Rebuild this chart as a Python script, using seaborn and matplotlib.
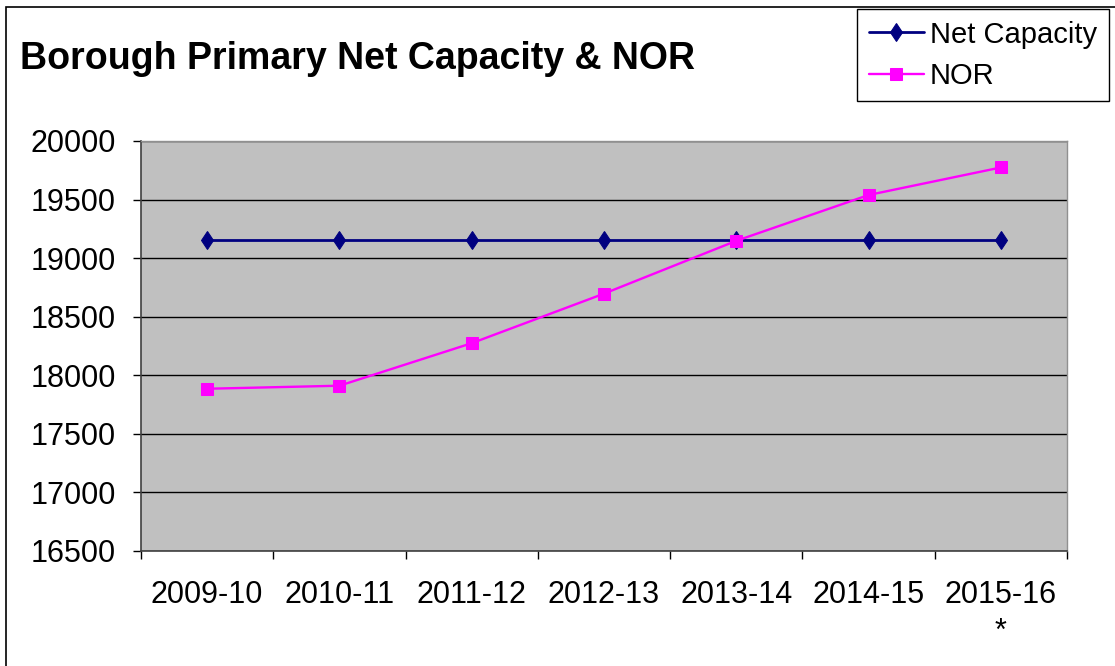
import pandas as pd
import matplotlib
matplotlib.use("Agg")
import matplotlib.pyplot as plt
import matplotlib.patches as mpatches
import seaborn as sns

# Data
years = ["2009-10", "2010-11", "2011-12", "2012-13", "2013-14", "2014-15", "2015-16\n*"]
net_capacity = [19157, 19157, 19157, 19157, 19157, 19157, 19157]
nor = [17885, 17911, 18274, 18697, 19148, 19539, 19774]
y_ticks = [16500, 17000, 17500, 18000, 18500, 19000, 19500, 20000]

sns.set_theme(style="white")
plt.rcParams["font.family"] = ["Liberation Sans", "DejaVu Sans"]
plt.rcParams["text.color"] = "black"
plt.rcParams["xtick.color"] = "black"
plt.rcParams["ytick.color"] = "black"
plt.rcParams["xtick.labelcolor"] = "black"
plt.rcParams["ytick.labelcolor"] = "black"

df = pd.DataFrame({"pos": range(len(years)), "Net Capacity": net_capacity, "NOR": nor})

fig = plt.figure(figsize=(11.15, 6.66), dpi=100)
ax = fig.add_axes([141 / 1115, 1 - 551 / 666, (1067 - 141) / 1115, (551 - 141) / 666])
ax.set_facecolor("#C0C0C0")

sns.lineplot(data=df, x="pos", y="Net Capacity", ax=ax, color="#000080", linewidth=2,
             marker="d", markersize=9.5, markeredgecolor="#000080", label="Net Capacity")
sns.lineplot(data=df, x="pos", y="NOR", ax=ax, color="#FF00FF", linewidth=1.7,
             marker="s", markersize=8, markeredgecolor="#FF00FF", label="NOR")

ax.set_xlim(-0.5, len(years) - 0.5)
ax.set_ylim(y_ticks[0], y_ticks[-1])
ax.set_yticks(y_ticks)
ax.set_yticklabels([str(v) for v in y_ticks], fontsize=22)
ax.yaxis.grid(True, color="black", linewidth=1)
ax.set_axisbelow(True)

# category boundaries get the tick marks, labels sit in between
ax.set_xticks([i - 0.5 for i in range(len(years) + 1)])
ax.set_xticklabels([])
ax.set_xticks(range(len(years)), minor=True)
ax.set_xticklabels(years, minor=True, fontsize=22, linespacing=1.3, va="top")
ax.tick_params(axis="x", which="minor", length=0, pad=21)
ax.tick_params(axis="x", which="major", length=6, width=1, color="black", direction="out")
ax.tick_params(axis="y", length=6, width=1, color="black", direction="out", pad=12)
ax.tick_params(bottom=True, left=True, which="major")
ax.set_xlabel("")
ax.set_ylabel("")

for side in ["left", "bottom"]:
    ax.spines[side].set_color("#404040")
    ax.spines[side].set_linewidth(1.2)
for side in ["top", "right"]:
    ax.spines[side].set_color("#909090")
    ax.spines[side].set_linewidth(1)

fig.text(20 / 1115, 1 - 69 / 666, "Borough Primary Net Capacity & NOR",
         fontsize=27, fontweight="bold", ha="left", va="baseline", color="black")

leg = ax.legend(loc="upper left", bbox_to_anchor=(857 / 1115, 1 - 9 / 666),
                bbox_transform=fig.transFigure, fontsize=21, frameon=True,
                fancybox=False, edgecolor="black", framealpha=1,
                borderpad=0.4, labelspacing=0.45, handlelength=1.9, handletextpad=0.2,
                borderaxespad=0)
leg.get_frame().set_linewidth(1)

# chart outer border
fig.patches.append(mpatches.Rectangle((6 / 1115, -0.1), 1.2, 1 - 7 / 666 + 0.1,
                                      transform=fig.transFigure, fill=False,
                                      edgecolor="black", linewidth=1.2))

fig.savefig("out.png", dpi=100)
